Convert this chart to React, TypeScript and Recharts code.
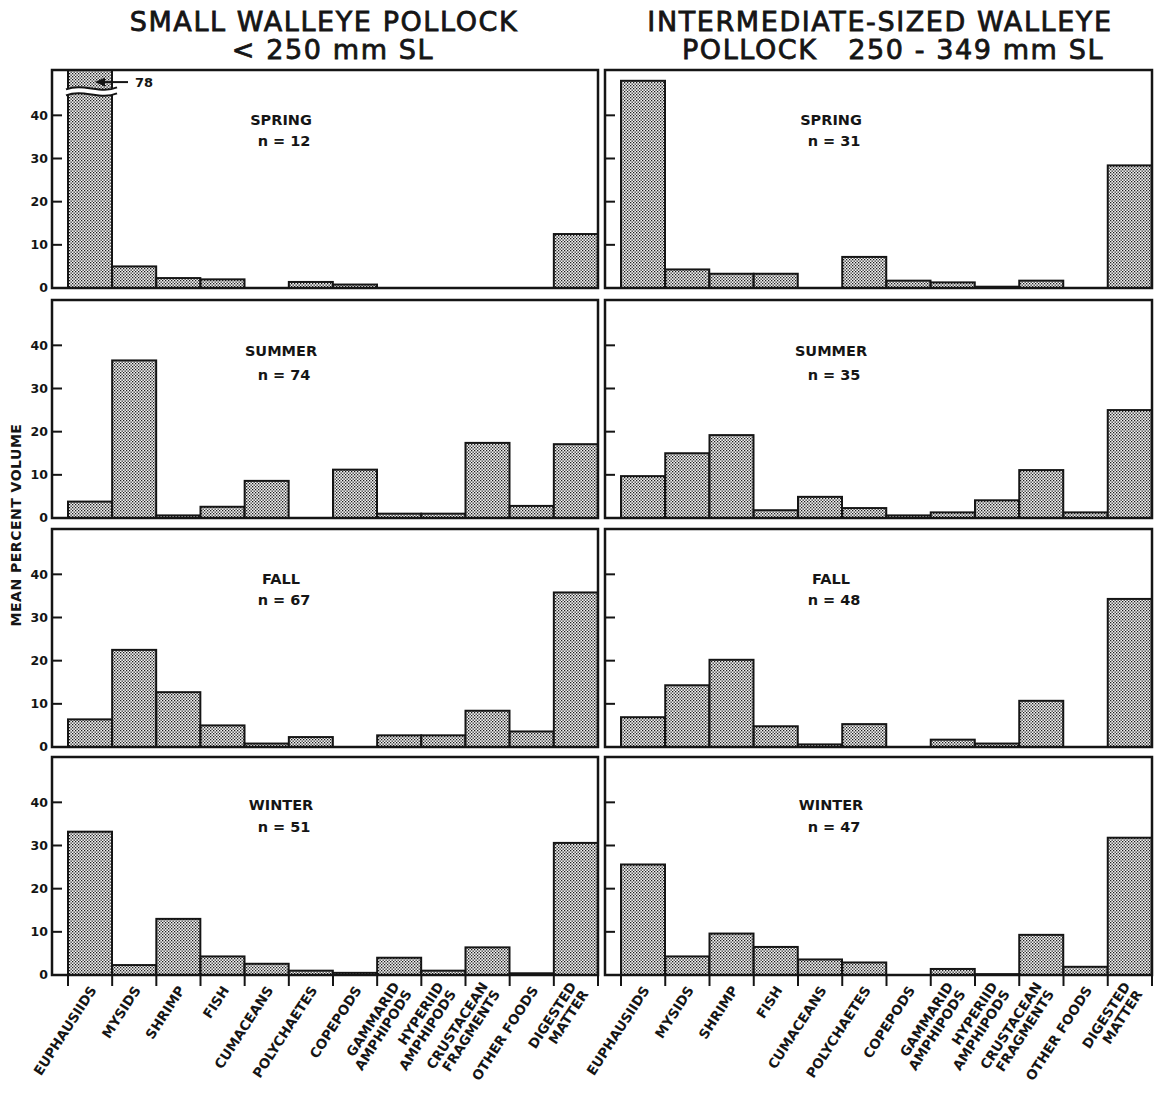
import React from 'react';
import { BarChart, Bar, XAxis, YAxis } from 'recharts';

// food categories (x axis)
const categories = [
  'EUPHAUSIIDS',
  'MYSIDS',
  'SHRIMP',
  'FISH',
  'CUMACEANS',
  'POLYCHAETES',
  'COPEPODS',
  'GAMMARID\nAMPHIPODS',
  'HYPERIID\nAMPHIPODS',
  'CRUSTACEAN\nFRAGMENTS',
  'OTHER FOODS',
  'DIGESTED\nMATTER',
];

// small walleye pollock < 250 mm SL, mean percent volume
const smallSpring = [78, 5, 2.3, 2, 0, 1.4, 0.8, 0, 0, 0, 0, 12.5];
const smallSummer = [3.8, 36.5, 0.6, 2.6, 8.6, 0, 11.2, 1, 1, 17.4, 2.8, 17.1];
const smallFall = [6.4, 22.5, 12.7, 5, 0.8, 2.3, 0, 2.7, 2.7, 8.4, 3.6, 35.8];
const smallWinter = [33.2, 2.3, 13, 4.3, 2.6, 1, 0.5, 4, 1, 6.4, 0.4, 30.6];

// intermediate-sized walleye pollock 250 - 349 mm SL
const midSpring = [48, 4.3, 3.3, 3.3, 0, 7.2, 1.7, 1.3, 0.3, 1.7, 0, 28.4];
const midSummer = [9.7, 15, 19.2, 1.8, 4.9, 2.3, 0.6, 1.3, 4.1, 11.1, 1.3, 25];
const midFall = [6.9, 14.3, 20.2, 4.8, 0.6, 5.3, 0, 1.7, 0.8, 10.7, 0, 34.3];
const midWinter = [25.6, 4.3, 9.6, 6.5, 3.6, 2.9, 0, 1.4, 0.2, 9.3, 1.9, 31.8];

const seasons = ['SPRING', 'SUMMER', 'FALL', 'WINTER'];
const nSmall = [12, 74, 67, 51];
const nMid = [31, 35, 48, 47];
const yTicks = [0, 10, 20, 30, 40];

const smallSeries = [smallSpring, smallSummer, smallFall, smallWinter];
const midSeries = [midSpring, midSummer, midFall, midWinter];

// layout
const YMAX = 50.5;
const PLOT_H = 218;
const ROW_TOP = [70, 300, 529, 757];
const X_LABEL_H = 130;
const COLS = [
  { left: 0, yAxisW: 52, plotW: 546, pad: 16, labelX: 281 },
  { left: 540, yAxisW: 65, plotW: 547, pad: 16, labelX: 831 },
];
const LABEL_Y = [
  [120, 141],
  [351, 375],
  [579, 600],
  [805, 827],
];
const INK = '#151515';
const FONT = '"DejaVu Sans", sans-serif';

const XTick = (props: any) => {
  const { x, y, payload, index, bw } = props;
  const lines = String(payload.value).split('\n');
  const lh = 14.5;
  const off = -((lines.length - 1) * lh) / 2;
  return (
    <g>
      <line x1={x - bw / 2} x2={x - bw / 2} y1={y} y2={y + 11} stroke={INK} strokeWidth={2} />
      {index === categories.length - 1 && (
        <line x1={x + bw / 2} x2={x + bw / 2} y1={y} y2={y + 11} stroke={INK} strokeWidth={2} />
      )}
      <text
        transform={`translate(${x + 7},${y + 15}) rotate(-57)`}
        textAnchor="end"
        fill={INK}
        fontFamily={FONT}
        fontWeight={700}
        fontSize={13.5}
      >
        {lines.map((l, i) => (
          <tspan key={i} x={0} y={off + i * lh}>
            {l}
          </tspan>
        ))}
      </text>
    </g>
  );
};

const makeShape = (pid: string) => (props: any) => {
  const { x, y, width, height, payload } = props;
  const v = payload.v;
  if (!v || height <= 0) return <g />;
  if (v <= YMAX) {
    return <rect x={x} y={y} width={width} height={height} fill={`url(#${pid})`} stroke={INK} strokeWidth={2} />;
  }
  // off-scale bar: draw to the top of the frame with a wavy break and a value arrow
  const bottom = y + height;
  const ppu = height / v;
  const top = bottom - YMAX * ppu;
  const yb = bottom - 45.3 * ppu;
  const ya = bottom - 47.7 * ppu;
  const x0 = x - 2;
  const x1 = x + width + 5;
  const w = x1 - x0;
  const wave = (dy: number) =>
    `M${x0},${yb + dy} C${x0 + w / 3},${yb + dy - 7} ${x0 + (2 * w) / 3},${yb + dy + 5} ${x1},${yb + dy - 2}`;
  const band =
    `M${x0},${yb - 3} C${x0 + w / 3},${yb - 10} ${x0 + (2 * w) / 3},${yb + 2} ${x1},${yb - 5} ` +
    `L${x1},${yb + 1} C${x0 + (2 * w) / 3},${yb + 8} ${x0 + w / 3},${yb - 4} ${x0},${yb + 3} Z`;
  const right = x + width;
  return (
    <g>
      <rect x={x} y={top} width={width} height={bottom - top} fill={`url(#${pid})`} stroke={INK} strokeWidth={2} />
      <path d={band} fill="#fff" stroke="none" />
      <path d={wave(-3)} fill="none" stroke={INK} strokeWidth={2} />
      <path d={wave(3)} fill="none" stroke={INK} strokeWidth={2} />
      <line x1={right - 9} x2={right + 16} y1={ya} y2={ya} stroke={INK} strokeWidth={2} />
      <polygon points={`${right - 17},${ya} ${right - 7},${ya - 4.5} ${right - 7},${ya + 4.5}`} fill={INK} />
      <text x={right + 23} y={ya + 5} fill={INK} fontFamily={FONT} fontWeight={700} fontSize={13}>
        {v}
      </text>
    </g>
  );
};

const Panel = ({ values, row, col }: { values: number[]; row: number; col: number }) => {
  const c = COLS[col];
  const bottom = row === ROW_TOP.length - 1;
  const data = categories.map((name, i) => ({ name, v: values[i] }));
  const pid = `dots-${row}-${col}`;
  const bw = (c.plotW - c.pad) / categories.length;
  return (
    <div style={{ position: 'absolute', left: c.left, top: ROW_TOP[row] }}>
      <BarChart
        width={c.yAxisW + c.plotW + 2}
        height={PLOT_H + (bottom ? X_LABEL_H : 10)}
        data={data}
        margin={{ top: 0, right: 2, bottom: bottom ? 0 : 10, left: 0 }}
        barCategoryGap={0}
        barGap={0}
      >
        <defs>
          <pattern id={pid} width={3} height={3} patternUnits="userSpaceOnUse">
            <rect width={3} height={3} fill="#f4f4f4" />
            <rect x={0} y={0} width={1.3} height={1.3} fill="#1a1a1a" />
            <rect x={1.5} y={1.5} width={1.3} height={1.3} fill="#1a1a1a" />
          </pattern>
        </defs>
        <XAxis
          dataKey="name"
          hide={!bottom}
          height={bottom ? X_LABEL_H : 0}
          interval={0}
          axisLine={false}
          tickLine={false}
          tickSize={0}
          tickMargin={0}
          padding={{ left: c.pad, right: 0 }}
          tick={<XTick bw={bw} />}
        />
        <YAxis
          type="number"
          domain={[0, YMAX]}
          allowDataOverflow
          ticks={yTicks}
          interval={0}
          width={c.yAxisW}
          axisLine={false}
          tickLine={{ stroke: INK, strokeWidth: 2 }}
          tickSize={-10}
          tickMargin={14}
          tickFormatter={(t: number) => (col === 0 ? String(t) : '')}
          tick={{ fill: INK, fontSize: 12.5, fontWeight: 700, fontFamily: FONT }}
        />
        <Bar dataKey="v" isAnimationActive={false} shape={makeShape(pid)} />
      </BarChart>
    </div>
  );
};

export default function App() {
  return (
    <div style={{ position: 'absolute', left: 0, top: 0, width: 1156, height: 1104, background: '#fff' }}>
      {seasons.map((s, r) => (
        <React.Fragment key={s}>
          <Panel values={smallSeries[r]} row={r} col={0} />
          <Panel values={midSeries[r]} row={r} col={1} />
        </React.Fragment>
      ))}
      <svg width={1156} height={1104} style={{ position: 'absolute', left: 0, top: 0, pointerEvents: 'none' }}>
        {/* panel frames */}
        {seasons.map((s, r) =>
          COLS.map((c, ci) => (
            <rect
              key={`${s}-${ci}`}
              x={c.left + c.yAxisW}
              y={ROW_TOP[r]}
              width={c.plotW}
              height={PLOT_H}
              fill="none"
              stroke={INK}
              strokeWidth={2.5}
            />
          ))
        )}
        {/* season / sample size labels */}
        {seasons.map((s, r) =>
          COLS.map((c, ci) => (
            <g key={`lab-${s}-${ci}`} fill={INK} fontFamily={FONT} fontWeight={700} fontSize={14.5} textAnchor="middle">
              <text x={c.labelX} y={LABEL_Y[r][0]} dominantBaseline="central">
                {s}
              </text>
              <text x={c.labelX + 3} y={LABEL_Y[r][1]} dominantBaseline="central">
                {`n = ${ci === 0 ? nSmall[r] : nMid[r]}`}
              </text>
            </g>
          ))
        )}
        {/* column titles */}
        <g
          fill={INK}
          stroke={INK}
          strokeWidth={0.8}
          fontFamily={FONT}
          fontWeight={400}
          fontSize={27}
          textAnchor="middle"
          letterSpacing={1.6}
        >
          <text x={324} y={31}>SMALL WALLEYE POLLOCK</text>
          <text x={333} y={59}>{'< 250 mm SL'}</text>
          <text x={880} y={31}>INTERMEDIATE-SIZED WALLEYE</text>
          <text x={893} y={59} style={{ whiteSpace: 'pre' }}>{'POLLOCK   250 - 349 mm SL'}</text>
        </g>
        <text
          transform="translate(16,525) rotate(-90)"
          textAnchor="middle"
          dominantBaseline="central"
          fill={INK}
          fontFamily={FONT}
          fontWeight={700}
          fontSize={14}
          letterSpacing={0.5}
        >
          MEAN PERCENT VOLUME
        </text>
      </svg>
    </div>
  );
}
